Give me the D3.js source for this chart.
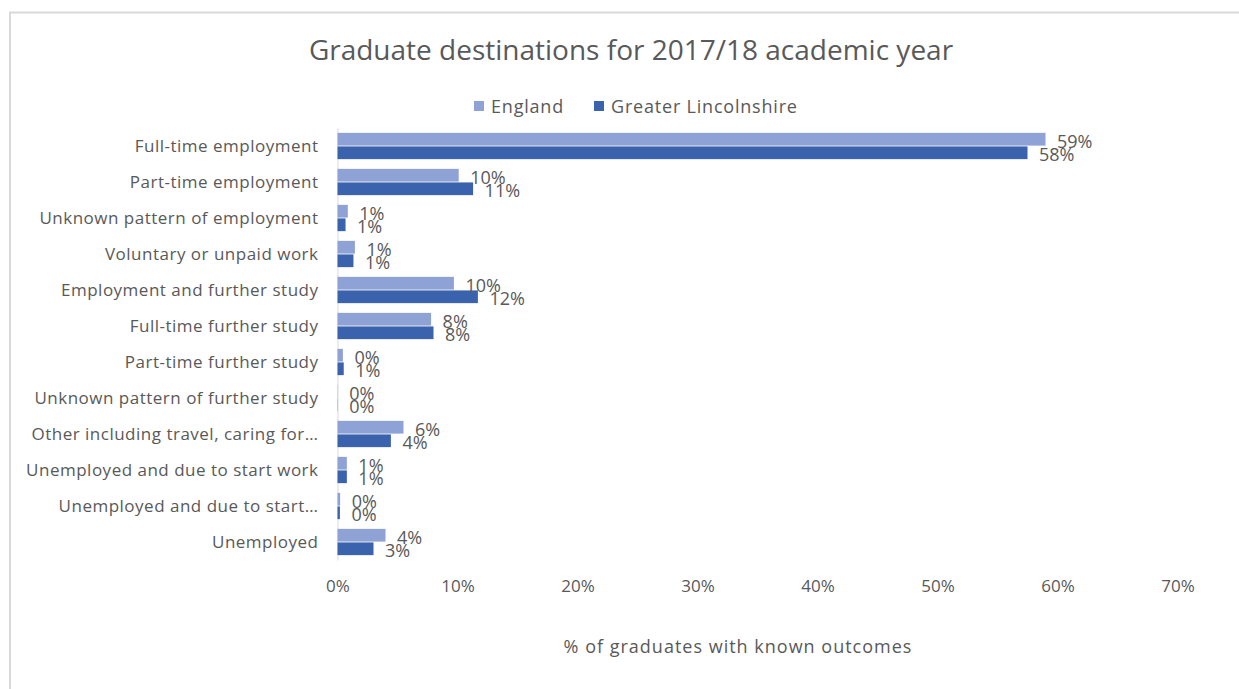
<!DOCTYPE html>
<html>
<head>
<meta charset="utf-8">
<script src="https://cdn.jsdelivr.net/npm/d3@7"></script>
<style>
  html, body { margin: 0; padding: 0; background: #fff; }
  svg { display: block; }
  text { font-family: "Open Sans", "DejaVu Sans", sans-serif; fill: #595959; }
</style>
</head>
<body>
<svg id="chart" width="1239" height="689"></svg>
<script>
// Destination categories, top to bottom
const categories = [
  "Full-time employment",
  "Part-time employment",
  "Unknown pattern of employment",
  "Voluntary or unpaid work",
  "Employment and further study",
  "Full-time further study",
  "Part-time further study",
  "Unknown pattern of further study",
  "Other including travel, caring for…",
  "Unemployed and due to start work",
  "Unemployed and due to start…",
  "Unemployed"
];

// Share of graduates with known outcomes (%)
const englandValues = [59.0, 10.1, 0.86, 1.45, 9.7, 7.8, 0.45, 0.02, 5.5, 0.78, 0.22, 4.0];
const lincolnshireValues = [57.5, 11.3, 0.67, 1.33, 11.7, 8.0, 0.52, 0.02, 4.45, 0.78, 0.2, 3.0];

const seriesNames = ["England", "Greater Lincolnshire"];
const seriesColors = ["#8fa2d6", "#3b63ad"];

const xTicks = [0, 10, 20, 30, 40, 50, 60, 70];

const chartTitle = "Graduate destinations for 2017/18 academic year";
const xAxisTitle = "% of graduates with known outcomes";

const series = [englandValues, lincolnshireValues];

const svg = d3.select("#chart");

// chart frame
svg.append("rect")
  .attr("x", 10).attr("y", 12.5)
  .attr("width", 1240).attr("height", 690)
  .attr("fill", "#fff")
  .attr("stroke", "#d9d9d9")
  .attr("stroke-width", 2);

const plot = { left: 337.5, right: 1177.5, top: 128, bottom: 560 };

const x = d3.scaleLinear().domain([0, 70]).range([plot.left, plot.right]);
const y = d3.scaleBand().domain(categories).range([plot.top, plot.bottom]).paddingInner(0.27).paddingOuter(0.135);
const inner = d3.scaleBand().domain([0, 1]).range([0, y.bandwidth()]).paddingInner(0.06);

// title
svg.append("text")
  .attr("x", 631).attr("y", 60)
  .attr("text-anchor", "middle")
  .style("font-size", "28px")
  .text(chartTitle);

// legend
const legendItems = [{ x: 474, name: seriesNames[0], color: seriesColors[0] },
                     { x: 594, name: seriesNames[1], color: seriesColors[1] }];
const lg = svg.append("g").selectAll("g").data(legendItems).join("g")
  .attr("transform", d => `translate(${d.x},0)`);
lg.append("rect").attr("x", 0).attr("y", 101).attr("width", 10).attr("height", 10)
  .attr("fill", d => d.color);
lg.append("text").attr("x", 17).attr("y", 112.5)
  .style("font-size", "18px")
  .style("letter-spacing", "0.8px")
  .text(d => d.name);

// category axis
const yAxis = svg.append("g")
  .attr("transform", `translate(${plot.left},0)`)
  .call(d3.axisLeft(y).tickSize(0).tickPadding(19));
yAxis.select(".domain").attr("stroke", "#d9d9d9").attr("stroke-width", 1);
yAxis.selectAll("text")
  .attr("dy", "0.36em")
  .style("font-size", "17px")
  .style("letter-spacing", "0.5px")
  .style("font-family", "\"Open Sans\", sans-serif")
  .attr("fill", "#595959");

// value axis labels
const xAxis = svg.append("g")
  .attr("transform", `translate(0,${plot.bottom})`)
  .call(d3.axisBottom(x).tickValues(xTicks).tickFormat(d => d + "%").tickSize(0).tickPadding(20));
xAxis.select(".domain").remove();
xAxis.selectAll("text")
  .style("font-size", "17px")
  .style("font-family", "\"Open Sans\", sans-serif")
  .attr("fill", "#595959");

// bars
const groups = svg.append("g").selectAll("g").data(categories).join("g")
  .attr("transform", d => `translate(0,${y(d)})`);

groups.selectAll("rect")
  .data((d, i) => series.map((s, k) => ({ k, v: s[i] })))
  .join("rect")
  .attr("x", x(0))
  .attr("y", d => inner(d.k))
  .attr("width", d => x(d.v) - x(0))
  .attr("height", inner.bandwidth())
  .attr("fill", d => seriesColors[d.k]);

// data labels
groups.selectAll("text.val")
  .data((d, i) => series.map((s, k) => ({ k, v: s[i] })))
  .join("text")
  .attr("class", "val")
  .attr("x", d => x(d.v) + 11.5)
  .attr("y", d => inner(d.k) + inner.bandwidth() / 2 + 2)
  .attr("dy", "0.36em")
  .style("font-size", "18px")
  .text(d => Math.round(d.v) + "%");

// axis title
svg.append("text")
  .attr("x", 738).attr("y", 653)
  .attr("text-anchor", "middle")
  .style("font-size", "18px")
  .style("letter-spacing", "1px")
  .text(xAxisTitle);
</script>
</body>
</html>
